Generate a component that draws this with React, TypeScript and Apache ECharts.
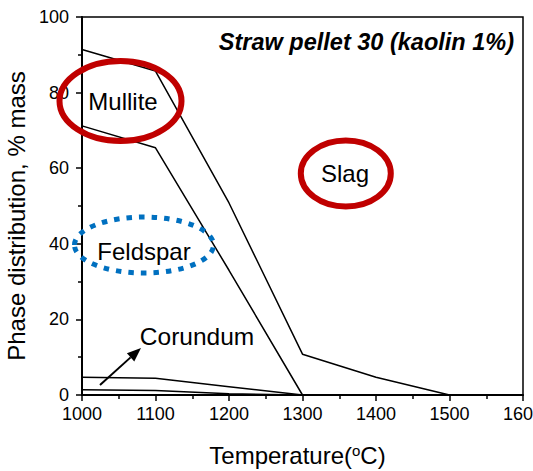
import React, { useEffect, useRef } from "react";
import * as echarts from "echarts";

const temperatures = [1000, 1100, 1200, 1300, 1400, 1500];
const slagBoundary = [91.4, 85.7, 50.8, 10.8, 4.7, 0];
const mulliteBoundary = [71.2, 65.4, 33.0, 0, null, null];
const corundumBoundary = [4.7, 4.4, 2.2, 0, null, null];
const lowerBoundary = [1.4, 1.2, 0.3, 0, null, null];

const xTicks = [1000, 1100, 1200, 1300, 1400, 1500, 1600];
const yTicks = [0, 20, 40, 60, 80, 100];

const titleText = "Straw pellet 30 (kaolin 1%)";
const FONT = "'Liberation Sans', Arial, sans-serif";

function toPairs(vals: (number | null)[]) {
  return temperatures
    .map((t, i) => [t, vals[i]])
    .filter((p) => p[1] !== null);
}

export default function App() {
  const ref = useRef<HTMLDivElement>(null);
  useEffect(() => {
    if (!ref.current) return;
    const chart = echarts.init(ref.current, undefined, { renderer: "svg" });
    const lineSeries = (name: string, vals: (number | null)[]) => ({
      name,
      type: "line",
      data: toPairs(vals),
      symbol: "none",
      lineStyle: { color: "#000", width: 1.5 },
      z: 3,
    });
    // arrow geometry
    const tail = [100, 385];
    const tip = [141, 348];
    const dx = tip[0] - tail[0];
    const dy = tip[1] - tail[1];
    const len = Math.sqrt(dx * dx + dy * dy);
    const ux = dx / len;
    const uy = dy / len;
    const headLen = 14;
    const headW = 5.5;
    const base = [tip[0] - ux * headLen, tip[1] - uy * headLen];
    chart.setOption({
      animation: false,
      grid: {
        left: 82,
        right: 10,
        top: 17,
        bottom: 76,
        containLabel: false,
        outerBoundsMode: "none",
        show: true,
        borderColor: "#000",
        borderWidth: 1.5,
      },
      xAxis: {
        type: "value",
        min: xTicks[0],
        max: xTicks[xTicks.length - 1],
        interval: 100,
        name: "Temperature({sup|o}C)",
        nameLocation: "middle",
        nameGap: 60,
        nameTextStyle: {
          fontFamily: FONT,
          fontSize: 24,
          color: "#000",
          verticalAlign: "middle",
          padding: [0, 10, 0, 0],
          rich: {
            sup: { fontFamily: FONT, fontSize: 15, color: "#000", verticalAlign: "top" },
          },
        },
        axisLine: { show: true, lineStyle: { color: "#000", width: 2 } },
        axisTick: { show: true, inside: false, length: 6, lineStyle: { color: "#000", width: 1.5 } },
        minorTick: { show: true, splitNumber: 2, length: 4, lineStyle: { color: "#000", width: 1.5 } },
        splitLine: { show: false },
        axisLabel: {
          fontFamily: FONT,
          fontSize: 18,
          color: "#000",
          margin: 10,
          formatter: (v: number) => String(v),
          hideOverlap: false,
        },
      },
      yAxis: {
        type: "value",
        min: yTicks[0],
        max: yTicks[yTicks.length - 1],
        interval: 20,
        name: "Phase distribution, % mass",
        nameLocation: "middle",
        nameGap: 59,
        nameTextStyle: {
          fontFamily: FONT,
          fontSize: 24,
          color: "#000",
          verticalAlign: "middle",
          padding: [0, 20, 0, 0],
        },
        axisLine: { show: true, lineStyle: { color: "#000", width: 2 } },
        axisTick: { show: true, inside: false, length: 6, lineStyle: { color: "#000", width: 1.5 } },
        minorTick: { show: true, splitNumber: 2, length: 4, lineStyle: { color: "#000", width: 1.5 } },
        splitLine: { show: false },
        axisLabel: {
          fontFamily: FONT,
          fontSize: 18,
          color: "#000",
          margin: 13,
          formatter: (v: number) => String(v),
        },
      },
      series: [
        lineSeries("Slag boundary", slagBoundary),
        lineSeries("Mullite boundary", mulliteBoundary),
        lineSeries("Corundum boundary", corundumBoundary),
        lineSeries("Lower boundary", lowerBoundary),
      ],
      graphic: [
        {
          type: "text",
          right: 533 - 514,
          top: 30,
          style: {
            text: titleText,
            font: `italic bold 23.5px ${FONT}`,
            fill: "#000",
          },
          z: 10,
        },
        {
          type: "ellipse",
          shape: { cx: 120.5, cy: 101, rx: 61, ry: 40 },
          style: { fill: "none", stroke: "#C00000", lineWidth: 6 },
          z: 10,
        },
        {
          type: "text",
          x: 123,
          y: 101,
          style: { text: "Mullite", font: `24px ${FONT}`, fill: "#000", align: "center", verticalAlign: "middle" },
          z: 11,
        },
        {
          type: "ellipse",
          shape: { cx: 345.8, cy: 173.5, rx: 45, ry: 33 },
          style: { fill: "none", stroke: "#C00000", lineWidth: 6 },
          z: 10,
        },
        {
          type: "text",
          x: 345,
          y: 173,
          style: { text: "Slag", font: `24px ${FONT}`, fill: "#000", align: "center", verticalAlign: "middle" },
          z: 11,
        },
        {
          type: "ellipse",
          shape: { cx: 144, cy: 245, rx: 69.5, ry: 28 },
          style: { fill: "none", stroke: "#0070C0", lineWidth: 5, lineDash: [5.5, 7] },
          z: 10,
        },
        {
          type: "text",
          x: 144,
          y: 251,
          style: { text: "Feldspar", font: `24px ${FONT}`, fill: "#000", align: "center", verticalAlign: "middle" },
          z: 11,
        },
        {
          type: "text",
          x: 197,
          y: 336,
          style: { text: "Corundum", font: `24.5px ${FONT}`, fill: "#000", align: "center", verticalAlign: "middle" },
          z: 11,
        },
        {
          type: "line",
          shape: { x1: tail[0], y1: tail[1], x2: base[0], y2: base[1] },
          style: { stroke: "#000", lineWidth: 2 },
          z: 11,
        },
        {
          type: "polygon",
          shape: {
            points: [
              tip,
              [base[0] + uy * headW, base[1] - ux * headW],
              [base[0] - uy * headW, base[1] + ux * headW],
            ],
          },
          style: { fill: "#000" },
          z: 11,
        },
      ],
    });
    return () => chart.dispose();
  }, []);
  return (
    <div
      ref={ref}
      style={{ position: "fixed", left: 0, top: 0, width: 533, height: 471, background: "#fff" }}
    />
  );
}
